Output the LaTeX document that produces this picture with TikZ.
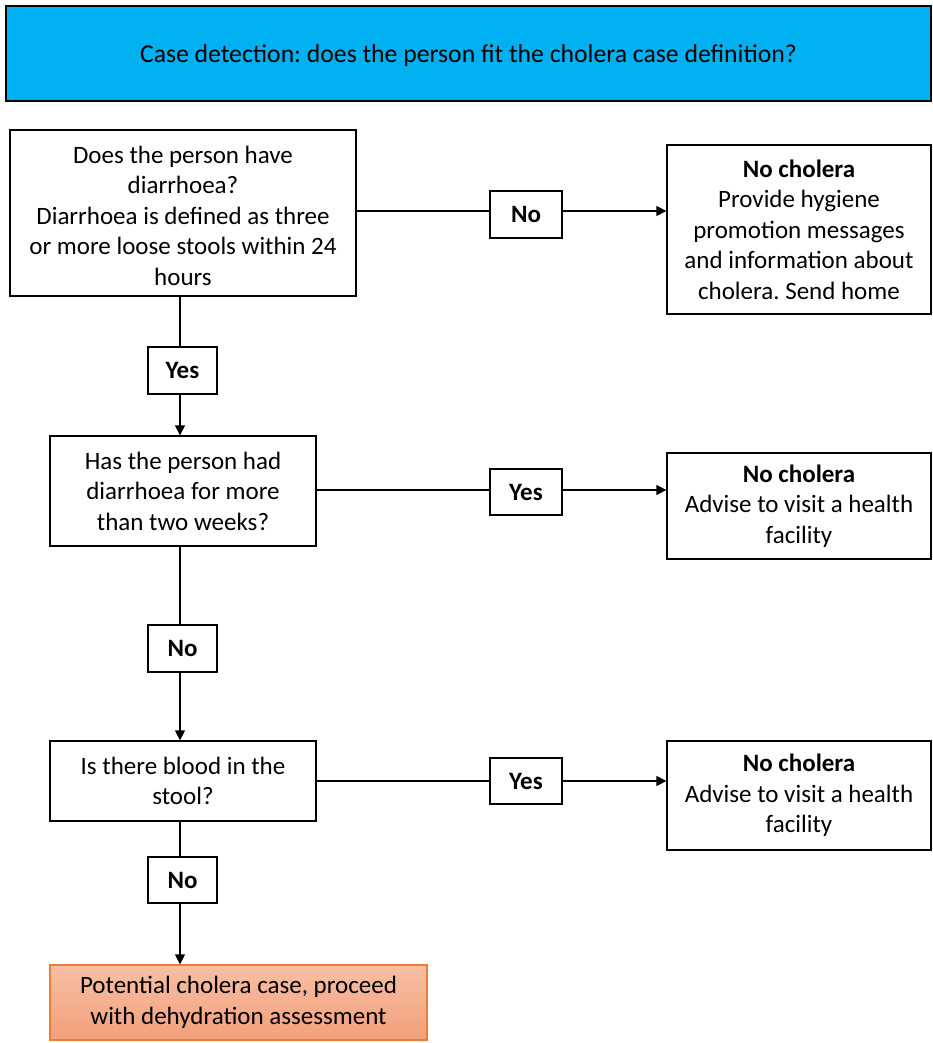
\documentclass[tikz,border=0pt]{standalone}
\usepackage{fontspec}
\setmainfont{Carlito}
\usetikzlibrary{arrows.meta}
\definecolor{hdr}{HTML}{00B0F0}
\definecolor{orgline}{HTML}{ED7D31}
\definecolor{orgtop}{HTML}{F7BFA3}
\definecolor{orgbot}{HTML}{F2A07C}
\frenchspacing
\begin{document}
\begin{tikzpicture}[x=1pt,y=-1pt,
  every node/.style={font=\fontsize{25}{30.5}\selectfont, align=center, inner sep=0pt},
  box/.style={draw=black, line width=1.3pt},
  lab/.style={draw=black, line width=1.3pt, fill=white, font=\fontsize{25}{30.5}\selectfont\bfseries},
  conn/.style={line width=1.3pt},
  arr/.style={line width=1.3pt, -{Triangle[length=10pt,width=10pt]}}]
\useasboundingbox (0,0) rectangle (933,1043);
% header
\node[box, fill=hdr, minimum width=925pt, minimum height=95pt, line width=1.5pt] (hdr) at (468.5,53.5) {};
\node[font=\fontsize{25.7}{30}\selectfont] (hdrtext) at (468.5,56) {Case detection: does the person fit the cholera case definition?};
% left column
\node[box, minimum width=346pt, minimum height=166pt] (q1) at (183,213) {};
\node (q1text) at (183,215.5)
  {Does the person have\\diarrhoea?\\Diarrhoea is defined as three\\or more loose stools within 24\\hours};
\node[box, minimum width=266pt, minimum height=110pt] (q2) at (183,491)
  {Has the person had\\diarrhoea for more\\than two weeks?};
\node[box, minimum width=266pt, minimum height=80pt] (q3) at (183,781)
  {Is there blood in the\\stool?};
\node[draw=orgline, line width=1.3pt, top color=orgtop, bottom color=orgbot, minimum width=377pt, minimum height=75pt] (res) at (238.5,1002.5)
  {Potential cholera case, proceed\\with dehydration assessment};
% right column
\node[box, minimum width=264pt, minimum height=169pt] (r1) at (799,229.5)
  {\textbf{No cholera}\\Provide hygiene\\promotion messages\\and information about\\cholera. Send home};
\node[box, minimum width=264pt, minimum height=106pt] (r2) at (799,506)
  {\textbf{No cholera}\\Advise to visit a health\\facility};
\node[box, minimum width=264pt, minimum height=109pt] (r3) at (799,795.5)
  {\textbf{No cholera}\\Advise to visit a health\\facility};
% labels
\node[lab, minimum width=72pt, minimum height=47pt] (l1) at (526,214.5) {No};
\node[lab, minimum width=69pt, minimum height=47pt] (l2) at (182.5,370.5) {Yes};
\node[lab, minimum width=72pt, minimum height=46pt] (l3) at (526,492) {Yes};
\node[lab, minimum width=69pt, minimum height=47pt] (l4) at (182.5,648.5) {No};
\node[lab, minimum width=72pt, minimum height=46pt] (l5) at (526,781) {Yes};
\node[lab, minimum width=69pt, minimum height=46pt] (l6) at (182.5,880) {No};
% connectors
\draw[conn] (q1.east |- 0,211) -- (l1.west |- 0,211);
\draw[arr] (l1.east |- 0,211) -- (r1.west |- 0,211);
\draw[conn] (q1.south -| 180,0) -- (l2.north -| 180,0);
\draw[arr] (l2.south -| 180,0) -- (q2.north -| 180,0);
\draw[conn] (q2.east |- 0,490) -- (l3.west |- 0,490);
\draw[arr] (l3.east |- 0,490) -- (r2.west |- 0,490);
\draw[conn] (q2.south -| 180,0) -- (l4.north -| 180,0);
\draw[arr] (l4.south -| 180,0) -- (q3.north -| 180,0);
\draw[conn] (q3.east |- 0,781) -- (l5.west |- 0,781);
\draw[arr] (l5.east |- 0,781) -- (r3.west |- 0,781);
\draw[conn] (q3.south -| 180,0) -- (l6.north -| 180,0);
\draw[arr] (l6.south -| 180,0) -- (res.north -| 180,0);
\end{tikzpicture}
\end{document}
